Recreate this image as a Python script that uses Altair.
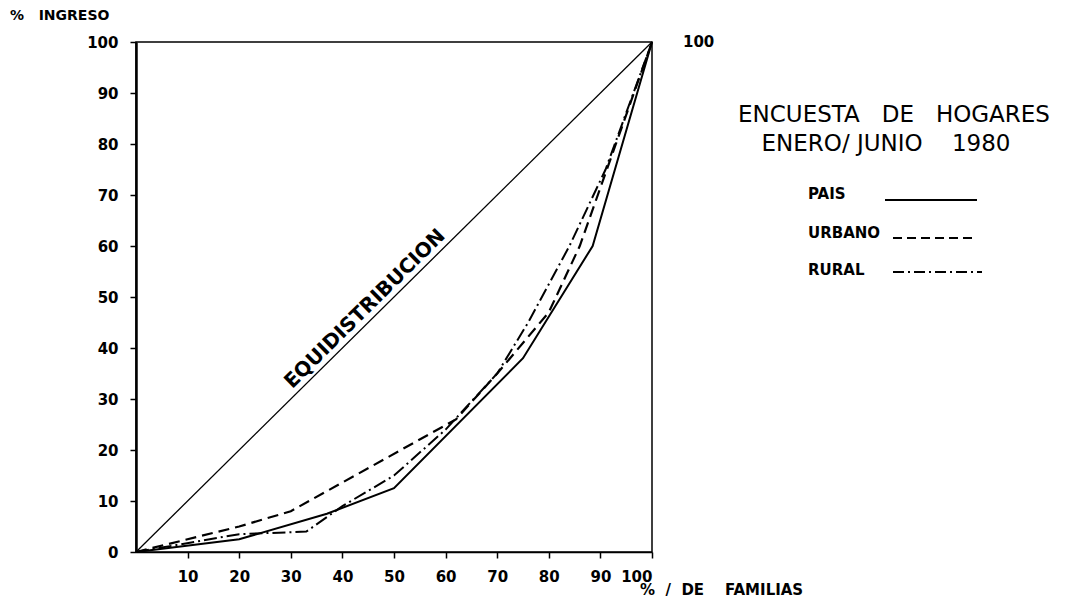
import altair as alt
import pandas as pd

# ---- data ----
x_pais = [0, 20, 37, 50, 75, 88.5, 100]
y_pais = [0, 2.5, 7.5, 12.5, 38, 60, 100]

x_urbano = [0, 20, 30, 62, 70, 80, 86, 93, 100]
y_urbano = [0, 5, 8, 26, 35, 47, 60, 80, 100]

x_rural = [0, 20, 33, 40, 50, 60, 70, 76, 84, 91, 100]
y_rural = [0, 3.5, 4, 9, 15, 24, 35, 45, 60, 75, 100]

x_equi = [0, 100]
y_equi = [0, 100]

x_ticks = [10, 20, 30, 40, 50, 60, 70, 80, 90, 100]
y_ticks = [0, 10, 20, 30, 40, 50, 60, 70, 80, 90, 100]

W, H = 516, 510
FONT = "DejaVu Sans"
NB = "\u00a0"

xs = alt.Scale(domain=[0, 100], nice=False, zero=False)
ys = alt.Scale(domain=[0, 100], nice=False, zero=False)

x_axis = alt.Axis(values=x_ticks, title=None, grid=False, labelFont=FONT,
                  labelFontWeight="bold", labelFontSize=15, labelColor="black",
                  tickColor="black", tickSize=6, tickWidth=1.5, labelPadding=11,
                  domainColor="black", domainWidth=1.5)
y_axis = alt.Axis(values=y_ticks, title=None, grid=False, labelFont=FONT,
                  labelFontWeight="bold", labelFontSize=15, labelColor="black",
                  tickColor="black", tickSize=6, tickWidth=1.5, labelPadding=12,
                  domainColor="black", domainWidth=2.5)

X = alt.X("x:Q", scale=xs, axis=x_axis)
Y = alt.Y("y:Q", scale=ys, axis=y_axis)


def series(xv, yv):
    return pd.DataFrame({"x": xv, "y": yv, "o": list(range(len(xv)))})


def line(df, dash=None, width=2.0):
    kw = dict(color="black", strokeWidth=width)
    if dash:
        kw["strokeDash"] = dash
    return alt.Chart(df).mark_line(**kw).encode(x=X, y=Y, order="o:Q")


equi = line(series(x_equi, y_equi), width=1.3)
pais = line(series(x_pais, y_pais), width=2.0)
urbano = line(series(x_urbano, y_urbano), dash=[11, 6], width=2.2)
rural = line(series(x_rural, y_rural), dash=[13, 4, 2, 4], width=2.0)

equi_label = alt.Chart(pd.DataFrame({"x": [46], "y": [46], "t": ["EQUIDISTRIBUCION"]})).mark_text(
    font=FONT, fontWeight="bold", fontSize=20, angle=315.3, baseline="bottom",
    align="center", dy=-2, color="black"
).encode(x=X, y=Y, text="t:N")

one = pd.DataFrame({"a": [0]})


def label(txt, px, py, size=12, weight="bold", align="left"):
    return alt.Chart(one).mark_text(
        text=txt.replace(" ", NB), font=FONT, fontSize=size, fontWeight=weight, align=align,
        baseline="middle", color="black"
    ).encode(x=alt.value(px), y=alt.value(py))


def rule(x1, x2, py, dash=None):
    kw = dict(color="black", strokeWidth=1.8)
    if dash:
        kw["strokeDash"] = dash
    return alt.Chart(one).mark_rule(**kw).encode(
        x=alt.value(x1), x2=alt.value(x2), y=alt.value(py))


ox, oy = 136, 42  # plot origin on the page
annots = [
    label("%   INGRESO", 10 - ox, 16 - oy, size=14),
    label("100", 683 - ox, 42 - oy, size=15),
    label("%  /  DE    FAMILIAS", 640 - ox, 590 - oy, size=15),
    label("ENCUESTA   DE   HOGARES", 894 - ox, 115 - oy, size=23, weight="normal", align="center"),
    label("ENERO/ JUNIO    1980", 886 - ox, 144 - oy, size=23, weight="normal", align="center"),
    label("PAIS", 808 - ox, 194 - oy, size=15),
    label("URBANO", 808 - ox, 233 - oy, size=15),
    label("RURAL", 808 - ox, 270 - oy, size=15),
    rule(885 - ox, 977 - ox, 200 - oy),
    rule(893 - ox, 977 - ox, 238 - oy, dash=[9, 5]),
    rule(893 - ox, 982 - ox, 272 - oy, dash=[11, 4, 2, 4]),
]

chart = alt.layer(equi, pais, urbano, rural, equi_label, *annots).properties(
    width=W, height=H,
    autosize=alt.AutoSizeParams(type="none"),
    padding={"left": 128, "top": 34, "right": 415, "bottom": 52},
    background="white",
).configure_view(stroke="black", strokeWidth=1.5)

chart.save("out.html", embed_options={"renderer": "svg", "actions": False})
